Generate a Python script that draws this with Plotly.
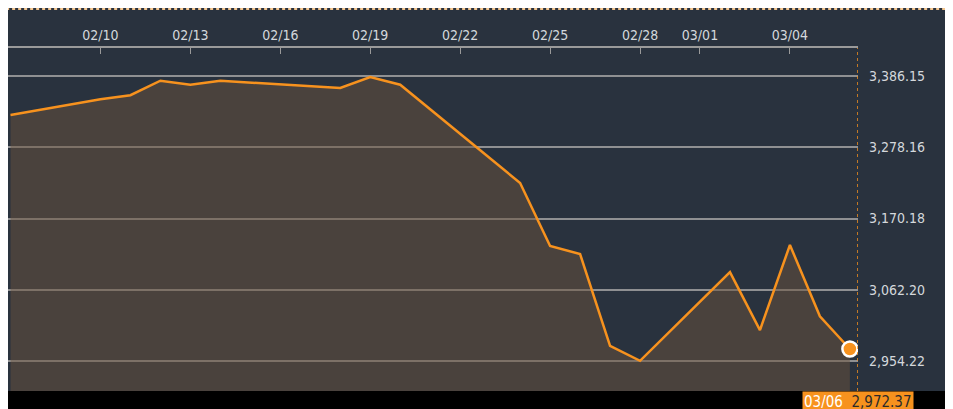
import plotly.graph_objects as go

dates = ["2024-02-07","2024-02-10","2024-02-11","2024-02-12","2024-02-13","2024-02-14",
         "2024-02-18","2024-02-19","2024-02-20","2024-02-24","2024-02-25","2024-02-26",
         "2024-02-27","2024-02-28","2024-03-02","2024-03-03","2024-03-04","2024-03-05","2024-03-06"]
values = [3327, 3351, 3357, 3379, 3373, 3379, 3368, 3384.6, 3373, 3224, 3128.5, 3116.4,
          2977, 2954.5, 3089, 3001, 3130, 3022, 2972.37]
ytick_vals = [2954.22, 3062.20, 3170.18, 3278.16, 3386.15]
xtick_vals = ["2024-02-10","2024-02-13","2024-02-16","2024-02-19","2024-02-22",
              "2024-02-25","2024-02-28","2024-03-01","2024-03-04"]
last_label = "03/06"

orange = "#f7921e"
fig = go.Figure()
fig.add_trace(go.Scatter(x=dates, y=values, mode="lines", line=dict(color=orange, width=2.5),
                         fill="tozeroy", fillcolor="rgba(107,82,60,0.5)", hoverinfo="skip"))
fig.add_trace(go.Scatter(x=[dates[-1]], y=[values[-1]], mode="markers",
                         marker=dict(color=orange, size=15, line=dict(color="white", width=2.5))))
fig.update_layout(
    width=953, height=409, showlegend=False,
    paper_bgcolor="#29323e", plot_bgcolor="#29323e",
    margin=dict(l=0, r=103, t=40, b=26, autoexpand=False),
    font=dict(family="DejaVu Sans Condensed", size=14, color="#d4d8dc"),
    xaxis=dict(type="date", side="top", range=["2024-02-06 22:00", "2024-03-06 06:30"],
               tickvals=xtick_vals, tickformat="%m/%d", ticks="inside", ticklen=6,
               tickcolor="#9a9a9a", showline=True, linecolor="#9a9a9a", linewidth=2,
               showgrid=False, zeroline=False, automargin=False),
    yaxis=dict(side="right", range=[2908.75, 3428.6], tickvals=ytick_vals,
               ticktext=[f"{v:,.2f}" for v in ytick_vals], showgrid=True,
               gridcolor="#8f9092", gridwidth=1.5, zeroline=False, ticks="",
               ticklabelstandoff=10, automargin=False),
    shapes=[
        dict(type="rect", xref="paper", yref="paper", x0=-0.01, x1=1.2, y0=-0.08, y1=0,
             fillcolor="black", line_width=0, layer="above"),
        dict(type="line", xref="x", yref="paper", x0="2024-03-06 06:30", x1="2024-03-06 06:30",
             y0=0, y1=1, line=dict(color=orange, width=1.5, dash="dot")),
        dict(type="rect", xref="paper", yref="paper", x0=-0.002, x1=1.119, y0=-0.073, y1=1.114,
             line=dict(color="#f3c58e", width=2, dash="dot"), fillcolor="rgba(0,0,0,0)"),
    ],
    annotations=[dict(xref="x", yref="paper", x="2024-03-06 06:30", y=0, yanchor="top",
                      text=f"{last_label}  <span style='color:#2a2a2a'>{values[-1]:,.2f}</span>",
                      showarrow=False, bgcolor=orange, font=dict(color="white", size=15),
                      borderpad=1)],
)
fig.write_html("out.html")
